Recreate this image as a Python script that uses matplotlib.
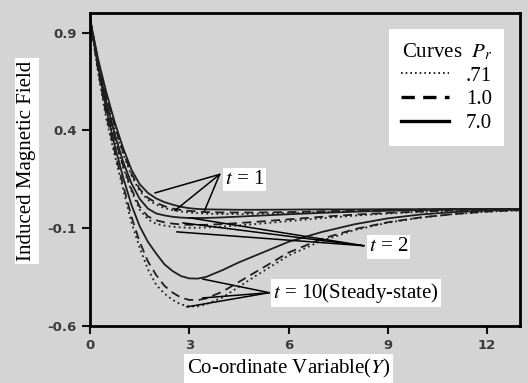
import matplotlib
matplotlib.use("Agg")
import matplotlib.pyplot as plt

plt.rcParams['mathtext.fontset'] = 'stix'

# Y grid on which the curves were read
Y = [0, 0.25, 0.5, 0.75, 1.0, 1.25, 1.5, 1.75, 2.0, 2.25, 2.5, 2.75, 3.0, 3.25, 3.5, 4.0, 4.5,
     5.0, 6.0, 7.0, 8.0, 9.0, 10.0, 11.0, 12.0, 13.0]

# t = 1
t1_pr071 = [0.97, 0.75, 0.56, 0.41, 0.28, 0.17, 0.09, 0.045, 0.02, 0.003, -0.008, -0.015, -0.02,
            -0.023, -0.026, -0.028, -0.028,
            -0.027, -0.023, -0.018, -0.013, -0.009, -0.006, -0.004, -0.003, -0.002]
t1_pr10 = [0.97, 0.75, 0.57, 0.42, 0.29, 0.18, 0.10, 0.055, 0.03, 0.012, 0.0, -0.007, -0.012,
           -0.015, -0.018, -0.02, -0.02,
           -0.02, -0.018, -0.014, -0.01, -0.007, -0.005, -0.003, -0.002, -0.002]
t1_pr70 = [0.97, 0.76, 0.59, 0.44, 0.31, 0.20, 0.125, 0.08, 0.052, 0.033, 0.02, 0.009, 0.002,
           -0.002, -0.004, -0.005, -0.006,
           -0.006, -0.005, -0.004, -0.004, -0.003, -0.003, -0.002, -0.002, -0.002]

# t = 2
t2_pr071 = [0.97, 0.71, 0.51, 0.35, 0.21, 0.09, -0.005, -0.055, -0.078, -0.087, -0.093, -0.096, -0.098,
            -0.098, -0.097, -0.092, -0.086,
            -0.079, -0.064, -0.049, -0.036, -0.025, -0.017, -0.011, -0.006, -0.003]
t2_pr10 = [0.97, 0.72, 0.52, 0.36, 0.22, 0.10, 0.01, -0.04, -0.06, -0.07, -0.077, -0.081, -0.083,
           -0.083, -0.083, -0.079, -0.074,
           -0.068, -0.055, -0.042, -0.031, -0.022, -0.015, -0.009, -0.005, -0.003]
t2_pr70 = [0.97, 0.73, 0.54, 0.38, 0.24, 0.13, 0.05, 0.0, -0.025, -0.035, -0.042, -0.046, -0.048,
           -0.048, -0.048, -0.045, -0.041,
           -0.037, -0.029, -0.022, -0.016, -0.011, -0.008, -0.005, -0.003, -0.002]

# t = 10 (steady state)
t10_pr071 = [0.97, 0.69, 0.45, 0.27, 0.10, -0.07, -0.20, -0.31, -0.39, -0.435, -0.467, -0.49, -0.50,
             -0.50, -0.49, -0.455, -0.40,
             -0.345, -0.24, -0.165, -0.11, -0.072, -0.046, -0.028, -0.016, -0.009]
t10_pr10 = [0.97, 0.70, 0.47, 0.29, 0.12, -0.04, -0.17, -0.27, -0.34, -0.395, -0.43, -0.455, -0.467,
            -0.468, -0.46, -0.425, -0.375,
            -0.325, -0.225, -0.155, -0.105, -0.07, -0.045, -0.028, -0.015, -0.008]
t10_pr70 = [0.97, 0.72, 0.50, 0.32, 0.16, 0.02, -0.09, -0.17, -0.23, -0.285, -0.32, -0.345, -0.357,
            -0.358, -0.35, -0.315, -0.275,
            -0.24, -0.17, -0.12, -0.08, -0.05, -0.03, -0.018, -0.01, -0.005]

pr_labels = ['.71', '1.0', '7.0']
x_ticks = [0, 3, 6, 9, 12]
y_ticks = [0.9, 0.4, -0.1, -0.6]

bg = '#d4d4d4'
lc = '#1e1e1e'
estilos = [(0, (1, 1.8)), (0, (5, 3)), '-']

fig = plt.figure(figsize=(5.28, 3.83), dpi=100, facecolor=bg)
ax = fig.add_axes([0.1705, 0.149, 0.8145, 0.817])
ax.set_facecolor(bg)

grupos = [
    [t1_pr071, t1_pr10, t1_pr70],
    [t2_pr071, t2_pr10, t2_pr70],
    [t10_pr071, t10_pr10, t10_pr70],
]
handles = []
for g in grupos:
    for i, serie in enumerate(g):
        h, = ax.plot(Y, serie, color=lc, lw=1.3, ls=estilos[i], zorder=2)
        if len(handles) < 3:
            handles.append(h)

ax.set_xlim(0, 13)
ax.set_ylim(-0.6, 1.0)
ax.set_xticks(x_ticks)
ax.set_yticks(y_ticks)
ax.set_xticklabels([str(v) for v in x_ticks])
ax.set_yticklabels(['0.9', '0.4', '-0.1', '-0.6'])
ax.tick_params(direction='out', length=6, width=1.5, color='#111111',
               labelsize=9.5, labelcolor='#3a3a3a')
for lab in ax.get_xticklabels() + ax.get_yticklabels():
    lab.set_fontweight('bold')
for s in ax.spines.values():
    s.set_linewidth(2)
    s.set_color('black')

serif = 'Liberation Serif'
fs = 15
caja = dict(facecolor='white', edgecolor='none', pad=2)

# etiquetas de los ejes
fig.text(0.051, 0.58, 'Induced Magnetic Field', rotation=90, ha='center', va='center',
         family=serif, fontsize=fs, bbox=caja)
fig.text(0.547, 0.038, 'Co-ordinate Variable($\\mathit{Y}$)', ha='center', va='center',
         family=serif, fontsize=fs, bbox=caja)

# anotaciones t = 1, 2, 10
anotaciones = [
    ('$t$ = 1', (4.07, 0.148), (3.92, 0.175), [(1.96, 0.08), (2.56, -0.011), (3.46, -0.011)]),
    ('$t$ = 2', (8.43, -0.196), (8.28, -0.19), [(2.62, -0.119), (2.8, -0.073), (3.0, -0.047)]),
    ('$t$ = 10(Steady-state)', (5.52, -0.431), (5.42, -0.43), [(3.4, -0.36), (3.4, -0.457), (2.92, -0.503)]),
]
for texto, pos, origen, destinos in anotaciones:
    for d in destinos:
        ax.annotate('', xy=d, xytext=origen,
                    arrowprops=dict(arrowstyle='-', lw=1.1, color='black', shrinkA=0, shrinkB=0),
                    zorder=3)
    ax.text(pos[0], pos[1], texto, ha='left', va='center', family=serif, fontsize=fs,
            bbox=dict(facecolor='white', edgecolor='none', pad=1.5), zorder=4)

# leyenda
leg = ax.legend(handles, pr_labels, title='Curves  $P_r$', loc='upper right',
                prop={'family': serif, 'size': fs}, frameon=True, fancybox=False,
                framealpha=1, handlelength=2.3, handletextpad=0.8, labelspacing=0.2,
                borderpad=0.6, borderaxespad=0.75, alignment='right')
leg.get_title().set_fontfamily(serif)
leg.get_title().set_fontsize(fs)
leg.get_frame().set_facecolor('white')
leg.get_frame().set_edgecolor('none')
for i, ln in enumerate(leg.get_lines()):
    ln.set_linewidth(1.2 if i == 0 else 2.4)
    ln.set_color('black')
    if i == 1:
        ln.set_linestyle((0, (4, 2.5)))

fig.savefig('out.png', dpi=100, facecolor=bg)
